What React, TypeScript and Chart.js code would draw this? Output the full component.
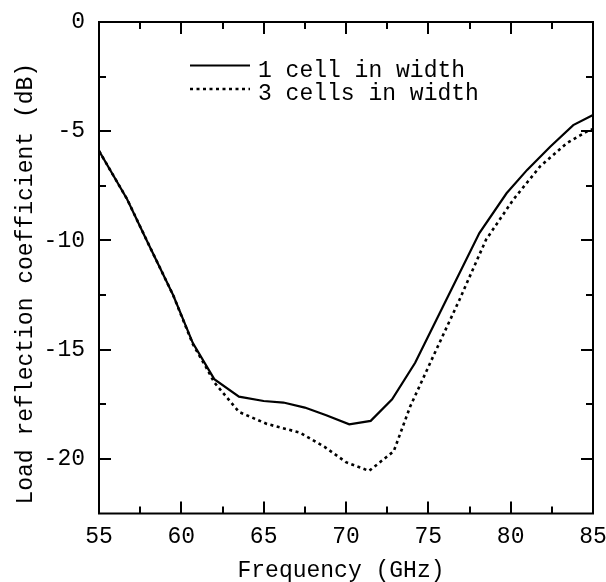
import React, { useEffect, useRef } from 'react';
import { Chart, registerables } from 'chart.js';

Chart.register(...registerables);

// ---- data ----
const freqOneCell = [55, 56.7, 57.9, 59.5, 60.7, 62.0, 63.5, 65.0, 66.2, 67.5, 68.8, 70.2, 71.5, 72.8, 74.2, 76.1, 78.1, 79.75, 81.0, 82.4, 83.8, 85];
const lossOneCell = [-5.9, -8.1, -10.0, -12.5, -14.7, -16.35, -17.15, -17.35, -17.42, -17.65, -18.0, -18.42, -18.26, -17.27, -15.6, -12.7, -9.66, -7.84, -6.77, -5.71, -4.72, -4.26];
const freqThreeCells = [55, 56.7, 57.9, 59.5, 60.7, 61.5, 62.0, 63.5, 65.2, 67.2, 68.7, 70.0, 71.4, 72.9, 73.9, 75.3, 76.9, 78.5, 80.15, 81.8, 83.4, 84.6, 85];
const lossThreeCells = [-5.9, -8.1, -10.0, -12.5, -14.75, -15.8, -16.5, -17.85, -18.4, -18.8, -19.45, -20.15, -20.55, -19.65, -17.6, -15.3, -12.7, -9.97, -8.14, -6.6, -5.55, -5.02, -4.9];
const seriesLabels = ['1 cell in width', '3 cells in width'];
const xTitle = 'Frequency (GHz)';
const yTitle = 'Load reflection coefficient (dB)';
const xRange = [55, 85];
const yRange = [-22.5, 0];
const majorStep = 5;
const minorStep = 2.5;

const FONT = '"Liberation Mono", "Courier New", monospace';
const FONT_SIZE = 23;

const framePlugin = {
  id: 'frameTicks',
  afterDraw(chart: any) {
    const { ctx, chartArea } = chart;
    const xs = chart.scales.x;
    const ys = chart.scales.y;
    const { left, right, top, bottom } = chartArea;
    ctx.save();
    ctx.strokeStyle = '#000';
    ctx.lineWidth = 2;
    ctx.setLineDash([]);
    ctx.strokeRect(left, top, right - left, bottom - top);
    const major = 12;
    const minor = 7;
    ctx.beginPath();
    for (let v = xRange[0] + minorStep; v < xRange[1] - 1e-6; v += minorStep) {
      const px = Math.round(xs.getPixelForValue(v));
      const len = Math.abs(v / majorStep - Math.round(v / majorStep)) < 1e-6 ? major : minor;
      ctx.moveTo(px, bottom);
      ctx.lineTo(px, bottom - len);
      ctx.moveTo(px, top);
      ctx.lineTo(px, top + len);
    }
    for (let v = yRange[0] + minorStep; v < yRange[1] - 1e-6; v += minorStep) {
      const py = Math.round(ys.getPixelForValue(v));
      const len = Math.abs(v / majorStep - Math.round(v / majorStep)) < 1e-6 ? major : minor;
      ctx.moveTo(left, py);
      ctx.lineTo(left + len, py);
      ctx.moveTo(right, py);
      ctx.lineTo(right - len, py);
    }
    ctx.stroke();

    // axis titles
    ctx.fillStyle = '#000';
    ctx.font = `${FONT_SIZE}px ${FONT}`;
    ctx.textAlign = 'center';
    ctx.textBaseline = 'alphabetic';
    ctx.fillText(xTitle, (left + right) / 2 - 5, 577);
    ctx.save();
    ctx.translate(32, (top + bottom) / 2 + 16);
    ctx.rotate(-Math.PI / 2);
    ctx.fillText(yTitle, 0, 0);
    ctx.restore();

    // legend
    const lx0 = left + 91;
    const lx1 = left + 151;
    const tx = left + 159;
    chart.data.datasets.forEach((ds: any, i: number) => {
      const ly = top + 43.5 + i * 23.5;
      ctx.beginPath();
      ctx.strokeStyle = ds.borderColor;
      ctx.lineWidth = ds.borderWidth;
      ctx.setLineDash(ds.borderDash || []);
      ctx.moveTo(lx0, ly);
      ctx.lineTo(lx1, ly);
      ctx.stroke();
      ctx.setLineDash([]);
      ctx.textAlign = 'left';
      ctx.fillText(ds.label, tx, ly + 11);
    });
    ctx.restore();
  },
};

const noPad = (s: any) => {
  s.paddingLeft = 0;
  s.paddingRight = 0;
  s.paddingTop = 0;
  s.paddingBottom = 0;
};

export default function App() {
  const ref = useRef<HTMLCanvasElement | null>(null);

  useEffect(() => {
    if (!ref.current) return;
    const chart = new Chart(ref.current, {
      type: 'line',
      data: {
        datasets: [
          {
            label: seriesLabels[0],
            data: freqOneCell.map((f, i) => ({ x: f, y: lossOneCell[i] })),
            borderColor: '#000',
            borderWidth: 2.2,
            pointRadius: 0,
            tension: 0,
            fill: false,
          },
          {
            label: seriesLabels[1],
            data: freqThreeCells.map((f, i) => ({ x: f, y: lossThreeCells[i] })),
            borderColor: '#000',
            borderWidth: 2.6,
            borderDash: [3, 3.5],
            pointRadius: 0,
            tension: 0,
            fill: false,
          },
        ],
      },
      options: {
        responsive: false,
        devicePixelRatio: 1,
        animation: false,
        layout: { padding: { top: 22, right: 13, left: 0, bottom: 0 } },
        plugins: { legend: { display: false }, tooltip: { enabled: false } },
        scales: {
          x: {
            type: 'linear',
            min: xRange[0],
            max: xRange[1],
            grid: { display: false, drawTicks: false },
            border: { display: false },
            ticks: {
              stepSize: majorStep,
              includeBounds: false,
              color: '#000',
              padding: 10,
              maxRotation: 0,
              font: { family: FONT, size: FONT_SIZE },
            },
            afterFit: (s: any) => {
              s.height = 68.5;
              noPad(s);
            },
          },
          y: {
            type: 'linear',
            min: yRange[0],
            max: yRange[1],
            grid: { display: false, drawTicks: false },
            border: { display: false },
            ticks: {
              stepSize: majorStep,
              includeBounds: false,
              color: '#000',
              padding: 14,
              font: { family: FONT, size: FONT_SIZE },
            },
            afterFit: (s: any) => {
              s.width = 99;
              noPad(s);
            },
          },
        },
      },
      plugins: [framePlugin],
    });
    return () => chart.destroy();
  }, []);

  return (
    <div style={{ position: 'absolute', left: 0, top: 0, width: 606, height: 582, background: '#fff' }}>
      <canvas ref={ref} width={606} height={582} style={{ display: 'block', width: 606, height: 582 }} />
    </div>
  );
}
